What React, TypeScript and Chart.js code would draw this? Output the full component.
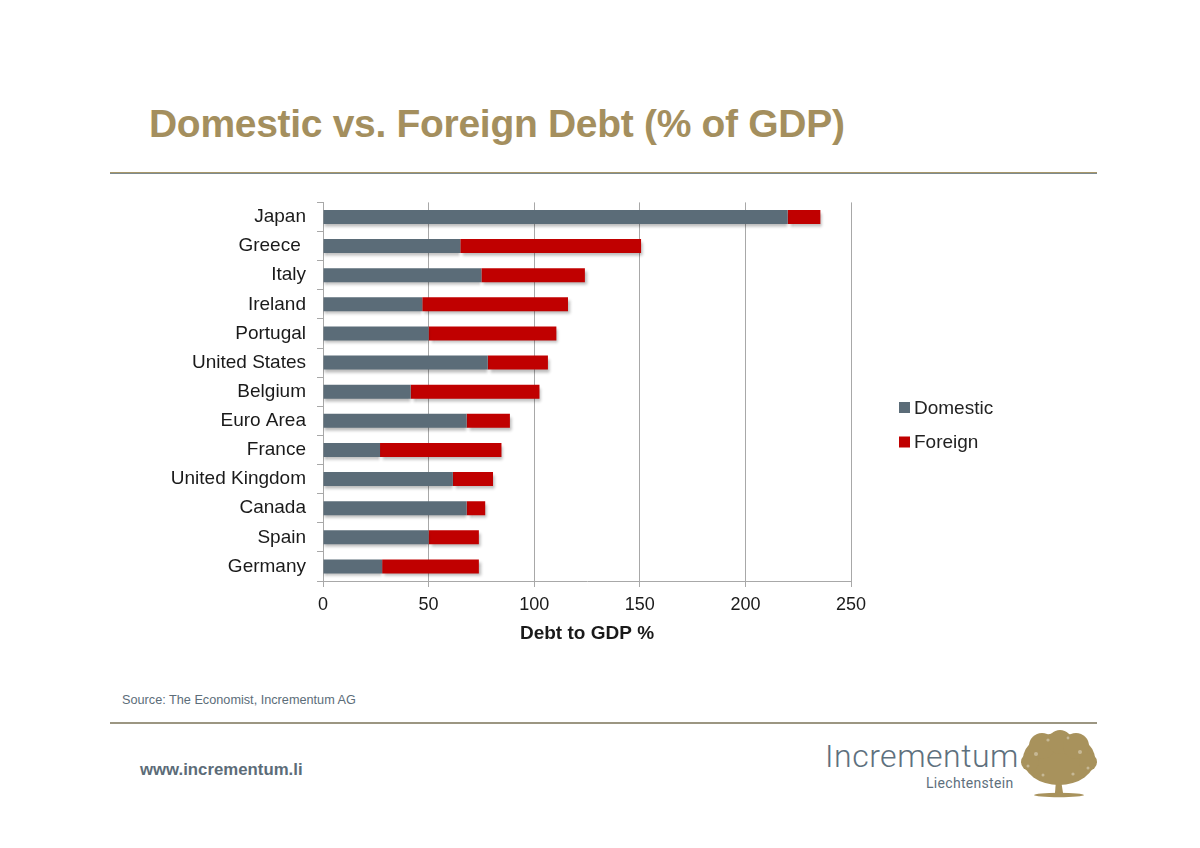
import React, { useEffect, useRef } from "react";
import { Chart, registerables } from "chart.js";

Chart.register(...registerables);

const countries = [
  "Japan",
  "Greece ",
  "Italy",
  "Ireland",
  "Portugal",
  "United States",
  "Belgium",
  "Euro Area",
  "France",
  "United Kingdom",
  "Canada",
  "Spain",
  "Germany",
];
const domesticDebt = [220, 65, 75, 47, 50, 78, 41.5, 68, 27, 61.5, 68, 50, 28];
const foreignDebt = [15.5, 85.6, 49, 69, 60.5, 28.5, 61, 20.5, 57.5, 19, 8.8, 23.8, 45.8];
const xTicks = [0, 50, 100, 150, 200, 250];

const FONT = '"Liberation Sans", Arial, Helvetica, sans-serif';
const DOMESTIC_COLOR = "#5B6C78";
const FOREIGN_COLOR = "#C00000";
const GRID_COLOR = "#A8A8A8";

const CANVAS_LEFT = 150;
const CANVAS_TOP = 180;
const CANVAS_W = 870;
const CANVAS_H = 480;

const shadowPlugin = {
  id: "barShadow",
  beforeDatasetDraw(chart: any, args: any) {
    const ctx = chart.ctx;
    ctx.save();
    ctx.shadowColor = "rgba(0,0,0,0.28)";
    ctx.shadowBlur = 3;
    ctx.shadowOffsetX = args.index === 1 ? 2 : 0;
    ctx.shadowOffsetY = 3;
  },
  afterDatasetDraw(chart: any) {
    chart.ctx.restore();
  },
};

const legendPlugin = {
  id: "sideLegend",
  afterDraw(chart: any) {
    const ctx = chart.ctx;
    const x0 = 899 - CANVAS_LEFT;
    const ys = [407.5 - CANVAS_TOP, 442 - CANVAS_TOP];
    ctx.save();
    chart.data.datasets.forEach((ds: any, i: number) => {
      const y = ys[i];
      ctx.fillStyle = ds.backgroundColor;
      ctx.fillRect(x0, y - 5.5, 11, 11);
      ctx.fillStyle = "#222";
      ctx.font = `19px ${FONT}`;
      ctx.textBaseline = "middle";
      ctx.textAlign = "left";
      ctx.fillText(ds.label, x0 + 15, y + 1);
    });
    ctx.restore();
  },
};

function DebtChart() {
  const ref = useRef<HTMLCanvasElement | null>(null);
  useEffect(() => {
    if (!ref.current) return;
    const chart = new Chart(ref.current, {
      type: "bar",
      data: {
        labels: countries,
        datasets: [
          {
            label: "Domestic",
            data: domesticDebt,
            backgroundColor: DOMESTIC_COLOR,
            borderWidth: 0,
            barPercentage: 0.48,
            categoryPercentage: 1,
          },
          {
            label: "Foreign",
            data: foreignDebt,
            backgroundColor: FOREIGN_COLOR,
            borderWidth: 0,
            barPercentage: 0.48,
            categoryPercentage: 1,
          },
        ],
      },
      options: {
        indexAxis: "y",
        responsive: false,
        animation: false,
        devicePixelRatio: 1,
        events: [],
        layout: { padding: { top: 2, right: 169, bottom: 0, left: 0 } },
        plugins: {
          legend: { display: false },
          tooltip: { enabled: false },
          title: { display: false },
        },
        scales: {
          x: {
            stacked: true,
            min: 0,
            max: 250,
            afterBuildTicks(scale: any) {
              scale.ticks = xTicks.map((v) => ({ value: v }));
            },
            afterFit(scale: any) {
              scale.height = 79;
            },
            ticks: {
              color: "#1a1a1a",
              font: { family: FONT, size: 18 },
              padding: 7,
            },
            grid: {
              color: GRID_COLOR,
              lineWidth: 1,
              tickLength: 6,
              drawTicks: true,
            },
            border: { color: GRID_COLOR, width: 1 },
            title: {
              display: true,
              text: "Debt to GDP %",
              color: "#1a1a1a",
              font: { family: FONT, size: 19, weight: "bold" },
              padding: { top: 0, bottom: 15 },
            },
          },
          y: {
            stacked: true,
            afterFit(scale: any) {
              scale.width = 173;
            },
            ticks: {
              color: "#1a1a1a",
              font: { family: FONT, size: 19 },
              padding: 11,
            },
            grid: {
              drawOnChartArea: false,
              drawTicks: true,
              tickLength: 6,
              color: GRID_COLOR,
              offset: true,
            },
            border: { color: GRID_COLOR, width: 1 },
          },
        },
      },
      plugins: [shadowPlugin, legendPlugin],
    } as any);
    return () => chart.destroy();
  }, []);
  return (
    <canvas
      ref={ref}
      width={CANVAS_W}
      height={CANVAS_H}
      style={{
        position: "absolute",
        left: CANVAS_LEFT,
        top: CANVAS_TOP,
        width: CANVAS_W,
        height: CANVAS_H,
      }}
    />
  );
}

function Tree() {
  const gold = "#A8925C";
  return (
    <svg
      width={80}
      height={70}
      viewBox="0 0 80 70"
      style={{ position: "absolute", left: 1018, top: 730 }}
    >
      <g fill={gold}>
        <ellipse cx={41} cy={29} rx={36} ry={26} />
        <circle cx={24} cy={16} r={13} />
        <circle cx={42} cy={12} r={12} />
        <circle cx={58} cy={16} r={13} />
        <circle cx={12} cy={32} r={9} />
        <circle cx={70} cy={32} r={9} />
        <path d="M38 50 L37 63 L45 63 L43 50 Z" />
        <ellipse cx={41} cy={65} rx={25} ry={2.2} />
      </g>
      <g fill="#ffffff" opacity={0.35}>
        <circle cx={18} cy={24} r={2} />
        <circle cx={30} cy={10} r={1.6} />
        <circle cx={62} cy={22} r={2} />
        <circle cx={70} cy={38} r={1.5} />
        <circle cx={50} cy={8} r={1.4} />
        <circle cx={10} cy={36} r={1.5} />
        <circle cx={55} cy={44} r={1.6} />
        <circle cx={25} cy={45} r={1.5} />
      </g>
    </svg>
  );
}

export default function App() {
  return (
    <div
      style={{
        position: "absolute",
        left: 0,
        top: 0,
        width: 1200,
        height: 848,
        background: "#ffffff",
        overflow: "hidden",
        fontFamily: FONT,
      }}
    >
      <div
        style={{
          position: "absolute",
          left: 149,
          top: 104,
          fontSize: 39,
          lineHeight: "39px",
          fontWeight: "bold",
          color: "#A48F5E",
          whiteSpace: "nowrap",
          letterSpacing: -0.3,
        }}
      >
        Domestic vs. Foreign Debt (% of GDP)
      </div>
      <div
        style={{
          position: "absolute",
          left: 110,
          top: 172,
          width: 987,
          height: 1,
          background: "#A8976A",
        }}
      />
      <div
        style={{
          position: "absolute",
          left: 110,
          top: 173,
          width: 987,
          height: 1,
          background: "#7D8A8E",
        }}
      />
      <DebtChart />
      <div
        style={{
          position: "absolute",
          left: 122,
          top: 693,
          fontSize: 12.7,
          lineHeight: "15px",
          color: "#5C6D79",
          whiteSpace: "nowrap",
        }}
      >
        Source: The Economist, Incrementum AG
      </div>
      <div
        style={{
          position: "absolute",
          left: 110,
          top: 722,
          width: 987,
          height: 2,
          background: "#9C9682",
        }}
      />
      <div
        style={{
          position: "absolute",
          left: 140,
          top: 760,
          fontSize: 16.8,
          lineHeight: "20px",
          fontWeight: "bold",
          color: "#5C6C78",
          whiteSpace: "nowrap",
        }}
      >
        www.incrementum.li
      </div>
      <div
        style={{
          position: "absolute",
          left: 825,
          top: 739,
          fontSize: 32,
          lineHeight: "34px",
          fontWeight: 300,
          fontFamily: 'Roboto, "Liberation Sans", sans-serif',
          color: "#5E707D",
          whiteSpace: "nowrap",
          letterSpacing: 0.5,
        }}
      >
        Incrementum
      </div>
      <div
        style={{
          position: "absolute",
          left: 926,
          top: 775,
          fontSize: 14,
          lineHeight: "16px",
          fontFamily: 'Roboto, "Liberation Sans", sans-serif',
          color: "#5E707D",
          whiteSpace: "nowrap",
          letterSpacing: 0.3,
        }}
      >
        Liechtenstein
      </div>
      <Tree />
    </div>
  );
}
